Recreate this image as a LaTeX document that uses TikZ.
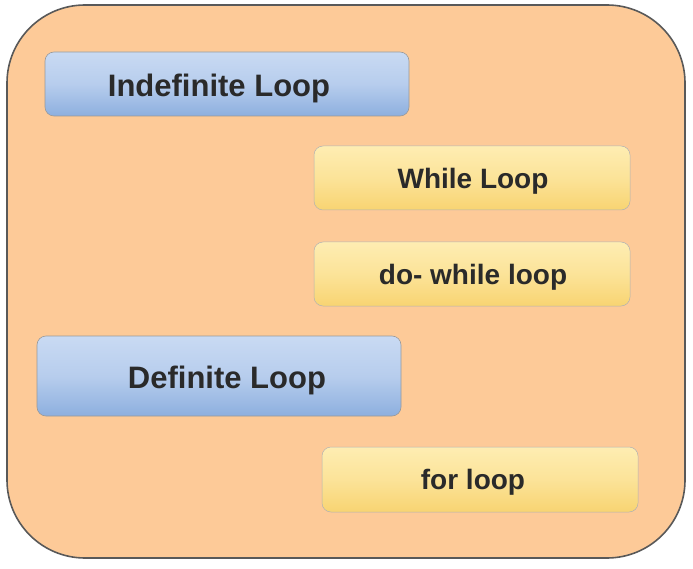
\documentclass[tikz,border=0pt]{standalone}
\usepackage{fontspec}
\setmainfont{Liberation Sans}
\definecolor{bgorange}{HTML}{FDCA98}
\definecolor{bluetop}{HTML}{C9DAF3}
\definecolor{bluebot}{HTML}{8DAFDF}
\definecolor{yeltop}{HTML}{FEEDB2}
\definecolor{yelbot}{HTML}{F8D472}
\definecolor{txt}{HTML}{2A2A2A}
\begin{document}
\begin{tikzpicture}[x=1pt,y=-1pt,
  outerbox/.style={draw=black!65,line width=1.6pt,fill=bgorange,rounded corners=78pt},
  bluebox/.style={draw=black!40,line width=0.6pt,rounded corners=9pt,top color=bluetop,bottom color=bluebot,middle color=bluetop!70!bluebot},
  yelbox/.style={draw=black!30,line width=0.5pt,rounded corners=9pt,top color=yeltop,bottom color=yelbot,middle color=yeltop!60!yelbot},
  bluetext/.style={font=\fontsize{31}{36}\selectfont\bfseries,text=txt},
  yeltext/.style={font=\fontsize{28}{33}\selectfont\bfseries,text=txt}]
\useasboundingbox (0,0) rectangle (693,569);
\draw[outerbox] (7,5) rectangle (685,558);
\draw[bluebox] (45,52) rectangle (409,116);
\node[bluetext] (indef) at (219,88) {Indefinite Loop};
\draw[yelbox] (314,146) rectangle (630,210);
\node[yeltext] (while) at (473,181) {While Loop};
\draw[yelbox] (314,242) rectangle (630,306);
\node[yeltext] (dowhile) at (473,277) {do- while loop};
\draw[bluebox] (37,336) rectangle (401,416);
\node[bluetext] (def) at (227,380) {Definite Loop};
\draw[yelbox] (322,447) rectangle (638,512);
\node[yeltext] (for) at (473,482) {for loop};
\end{tikzpicture}
\end{document}
